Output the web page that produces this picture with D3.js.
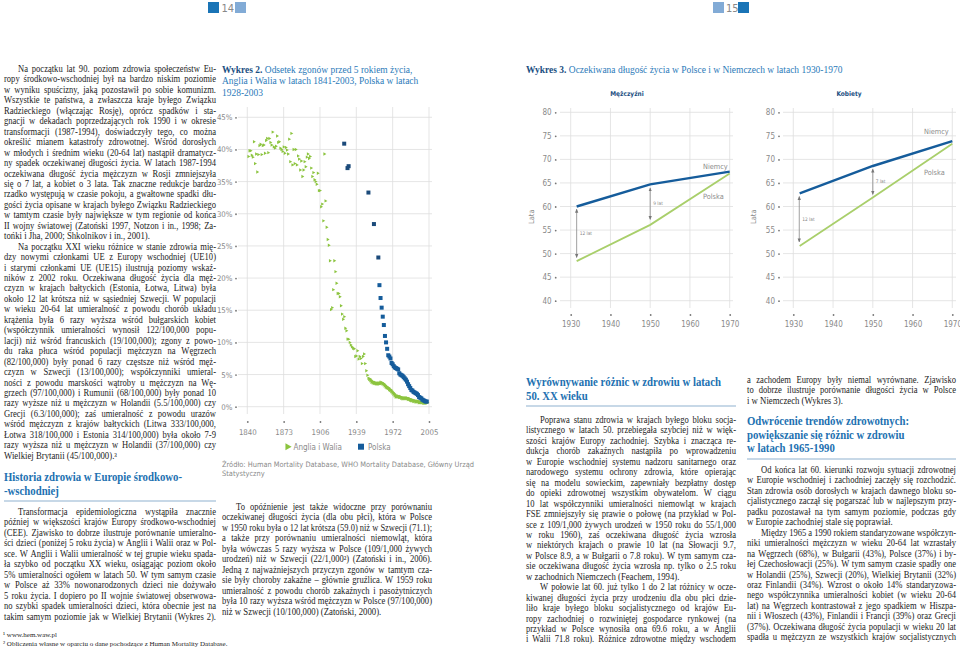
<!DOCTYPE html>
<html><head><meta charset="utf-8">
<script src="https://cdn.jsdelivr.net/npm/d3@7"></script>
<style>body{margin:0;background:#fff}svg{display:block}</style>
</head><body>
<script>
// ---------------- DATA ----------------
// Wykres 2: percentage of deaths before age 5
const ewStartYear = 1841;
const ewValues = [
 38.9,39.8,39.8,39.1,38.8,41.2,37.8,39.3,36.5,39.2,
 40.6,40.8,39.2,40.6,40.7,39.4,41.4,41.7,39.5,41.7,
 41.1,40.7,42.7,40.4,40.2,40.5,42.1,41.1,41.2,40.2,
 40.0,39.7,40.4,39.4,40.3,39.9,39.3,41.6,38.1,42.5,
 37.6,40.0,37.8,40.0,37.6,39.0,38.5,36.8,38.2,35.8,
 36.8,38.1,37.3,38.8,39.3,38.6,38.9,37.1,35.8,36.4,
 35.3,35.0,34.6,36.3,33.6,33.6,
 31.1,31.5,28.9,39.3,32.0,27.9,26.0,25.1,22.7,15.1,
 15.4,18.2,22.7,21.0,19.2,17.6,17.6,17.1,15.7,14.4,
 13.6,14.0,12.2,11.8,10.5,10.5,10.0,9.6,9.3,9.1,
 9.0,7.8,7.9,8.7,7.4,7.8,7.5,6.7,7.8,8.2,
 6.7,5.6,4.9,4.4,
 4.3,4.1,3.9,3.8,3.7,3.7,3.6,3.6,3.6,3.6,
 3.7,3.7,3.6,3.5,3.3,3.1,3.0,2.9,2.7,2.6,
 2.4,2.2,2.0,1.8,1.6,1.6,1.6,1.5,1.5,1.4,
 1.3,1.3,1.3,1.3,1.3,1.2,1.2,1.1,1.0,1.0,
 0.9,0.9,0.8,0.8,0.8,0.7,0.7,0.7,0.7,0.6,
 0.6,0.6,0.6
];
const plYears = [1928,1931,1932,1950,1955,1959,
 1960,1961,1962,1963,1964,1965,1966,1967,1968,1969,
 1970,1971,1972,1973,1974,1975,1976,1977,1978,1979,
 1980,1981,1982,1983,1984,1985,1986,1987,1988,1989,
 1990,1991,1992,1993,1994,1995,1996,1997,1998,1999,
 2000,2001,2002,2003];
const plValues = [40.9,37.1,37.4,33.3,28.4,23.2,
 18.9,16.9,15.4,14.0,12.7,11.0,10.0,9.0,8.0,7.8,
 7.5,6.8,6.6,6.3,6.1,6.0,5.9,5.8,5.2,5.0,
 4.9,4.8,4.6,4.4,4.2,3.9,3.5,3.2,2.9,2.6,
 2.5,2.3,2.2,2.1,2.0,1.8,1.5,1.4,1.3,1.1,
 1.0,0.9,0.8,0.8];
const chart2XTicks = [1840,1873,1906,1939,1972,2005];
const chart2YTicks = [0,5,10,15,20,25,30,35,40,45];
const chart2Legend = ["Anglia i Walia","Polska"];

// Wykres 3: life expectancy
const c3MenYears = [1931.5,1950,1970];
const c3MenDE = [60.0,64.7,67.4];
const c3MenPL = [48.4,56.1,67.0];
const c3WomYears = [1931.6,1950,1970];
const c3WomDE = [62.8,68.6,73.9];
const c3WomPL = [51.6,61.9,73.3];
const c3XTicks = [1930,1940,1950,1960,1970];
const c3YTicks = [40,45,50,55,60,65,70,75,80];
const c3MenGaps = [{year:1931.5,top:59.4,bottom:49.2,label:"12 lat"},{year:1950,top:63.9,bottom:57.3,label:"9 lat"}];
const c3WomGaps = [{year:1931.5,top:62.1,bottom:52.5,label:"12 lat"},{year:1950,top:67.9,bottom:62.6,label:"7 lat"}];

// ---------------- TEXT ----------------
const leftP1 = [
"Na początku lat 90. poziom zdrowia społeczeństw Eu-",
"ropy środkowo-wschodniej był na bardzo niskim poziomie",
"w wyniku spuścizny, jaką pozostawił po sobie komunizm.",
"Wszystkie te państwa, a zwłaszcza kraje byłego Związku",
"Radzieckiego (włączając Rosję), oprócz spadków i sta-",
"gnacji w dekadach poprzedzających rok 1990 i w okresie",
"transformacji (1987-1994), doświadczyły tego, co można",
"określić mianem katastrofy zdrowotnej. Wśród dorosłych",
"w młodych i średnim wieku (20-64 lat) nastąpił dramatycz-",
"ny spadek oczekiwanej długości życia. W latach 1987-1994",
"oczekiwana długość życia mężczyzn w Rosji zmniejszyła",
"się o 7 lat, a kobiet o 3 lata. Tak znaczne redukcje bardzo",
"rzadko występują w czasie pokoju, a gwałtowne spadki dłu-",
"gości życia opisane w krajach byłego Związku Radzieckiego",
"w tamtym czasie były największe w tym regionie od końca",
"II wojny światowej (Zatoński 1997, Notzon i in., 1998; Za-",
"tońki i Jha, 2000; Shkolnikov i in., 2001)."];
const leftP2 = [
"Na początku XXI wieku różnice w stanie zdrowia mię-",
"dzy nowymi członkami UE z Europy wschodniej (UE10)",
"i starymi członkami UE (UE15) ilustrują poziomy wskaź-",
"ników z 2002 roku. Oczekiwana długość życia dla męż-",
"czyzn w krajach bałtyckich (Estonia, Łotwa, Litwa) była",
"około 12 lat krótsza niż w sąsiedniej Szwecji. W populacji",
"w wieku 20-64 lat umieralność z powodu chorób układu",
"krążenia była 6 razy wyższa wśród bułgarskich kobiet",
"(współczynnik umieralności wynosił 122/100,000 popu-",
"lacji) niż wśród francuskich (19/100,000); zgony z powo-",
"du raka płuca wśród populacji mężczyzn na Węgrzech",
"(82/100,000) były ponad 6 razy częstsze niż wśród męż-",
"czyzn w Szwecji (13/100,000); współczynniki umieral-",
"ności z powodu marskości wątroby u mężczyzn na Wę-",
"grzech (97/100,000) i Rumunii (68/100,000) były ponad 10",
"razy wyższe niż u mężczyzn w Holandii (5.5/100,000) czy",
"Grecji (6.3/100,000); zaś umieralność z powodu urazów",
"wśród mężczyzn z krajów bałtyckich (Litwa 333/100,000,",
"Łotwa 318/100,000 i Estonia 314/100,000) była około 7-9",
"razy wyższa niż u mężczyzn w Holandii (37/100,000) czy",
"Wielkiej Brytanii (45/100,000).³"];
const leftHead = ["Historia zdrowia w Europie środkowo-","-wschodniej"];
const leftP3 = [
"Transformacja epidemiologiczna wystąpiła znacznie",
"później w większości krajów Europy środkowo-wschodniej",
"(CEE). Zjawisko to dobrze ilustruje porównanie umieralno-",
"ści dzieci (poniżej 5 roku życia) w Anglii i Walii oraz w Pol-",
"sce. W Anglii i Walii umieralność w tej grupie wieku spada-",
"ła szybko od początku XX wieku, osiągając poziom około",
"5% umieralności ogółem w latach 50. W tym samym czasie",
"w Polsce aż 33% nowonarodzonych dzieci nie dożywało",
"5 roku życia. I dopiero po II wojnie światowej obserwowa-",
"no szybki spadek umieralności dzieci, która obecnie jest na",
"takim samym poziomie jak w Wielkiej Brytanii (Wykres 2)."];
const footnotes = ["¹ www.hem.waw.pl","² Obliczenia własne w oparciu o dane pochodzące z Human Mortality Database."];
const midP = [
"To opóźnienie jest także widoczne przy porównaniu",
"oczekiwanej długości życia (dla obu płci), która w Polsce",
"w 1950 roku była o 12 lat krótsza (59.0) niż w Szwecji (71.1);",
"a także przy porównaniu umieralności niemowląt, która",
"była wówczas 5 razy wyższa w Polsce (109/1,000 żywych",
"urodzeń) niż w Szwecji (22/1,000²) (Zatoński i in., 2006).",
"Jedną z najważniejszych przyczyn zgonów w tamtym cza-",
"sie były choroby zakaźne – głównie gruźlica. W 1959 roku",
"umieralność z powodu chorób zakaźnych i pasożytniczych",
"była 10 razy wyższa wśród mężczyzn w Polsce (97/100,000)",
"niż w Szwecji (10/100,000) (Zatoński, 2000)."];
const c3Head = ["Wyrównywanie różnic w zdrowiu w latach","50. XX wieku"];
const c3P1 = [
"Poprawa stanu zdrowia w krajach byłego bloku socja-",
"listycznego w latach 50. przebiegała szybciej niż w więk-",
"szości krajów Europy zachodniej. Szybka i znacząca re-",
"dukcja chorób zakaźnych nastąpiła po wprowadzeniu",
"w Europie wschodniej systemu nadzoru sanitarnego oraz",
"narodowego systemu ochrony zdrowia, które opierając",
"się na modelu sowieckim, zapewniały bezpłatny dostęp",
"do opieki zdrowotnej wszystkim obywatelom. W ciągu",
"10 lat współczynniki umieralności niemowląt w krajach",
"FSE zmniejszyły się prawie o połowę (na przykład w Pol-",
"sce z 109/1,000 żywych urodzeń w 1950 roku do 55/1,000",
"w roku 1960), zaś oczekiwana długość życia wzrosła",
"w niektórych krajach o prawie 10 lat (na Słowacji 9.7,",
"w Polsce 8.9, a w Bułgarii o 7.8 roku). W tym samym cza-",
"sie oczekiwana długość życia wzrosła np. tylko o 2.5 roku",
"w zachodnich Niemczech (Feachem, 1994)."];
const c3P2 = [
"W połowie lat 60. już tylko 1 do 2 lat różnicy w ocze-",
"kiwanej długości życia przy urodzeniu dla obu płci dzie-",
"liło kraje byłego bloku socjalistycznego od krajów Eu-",
"ropy zachodniej o rozwiniętej gospodarce rynkowej (na",
"przykład w Polsce wynosiła ona 69.6 roku, a w Anglii",
"i Walii 71.8 roku). Różnice zdrowotne między wschodem"];
const c4P0 = [
"a zachodem Europy były niemal wyrównane. Zjawisko",
"to dobrze ilustruje porównanie długości życia w Polsce",
"i w Niemczech (Wykres 3)."];
const c4Head = ["Odwrócenie trendów zdrowotnych:","powiększanie się różnic w zdrowiu","w latach 1965-1990"];
const c4P1 = [
"Od końca lat 60. kierunki rozwoju sytuacji zdrowotnej",
"w Europie wschodniej i zachodniej zaczęły się rozchodzić.",
"Stan zdrowia osób dorosłych w krajach dawnego bloku so-",
"cjalistycznego zaczął się pogarszać lub w najlepszym przy-",
"padku pozostawał na tym samym poziomie, podczas gdy",
"w Europie zachodniej stale się poprawiał."];
const c4P2 = [
"Między 1965 a 1990 rokiem standaryzowane współczyn-",
"niki umieralności mężczyzn w wieku 20-64 lat wzrastały",
"na Węgrzech (68%), w Bułgarii (43%), Polsce (37%) i by-",
"łej Czechosłowacji (25%). W tym samym czasie spadły one",
"w Holandii (25%), Szwecji (20%), Wielkiej Brytanii (32%)",
"oraz Finlandii (34%). Wzrost o około 14% standaryzowa-",
"nego współczynnika umieralności kobiet (w wieku 20-64",
"lat) na Węgrzech kontrastował z jego spadkiem w Hiszpa-",
"nii i Włoszech (43%), Finlandii i Francji (39%) oraz Grecji",
"(37%). Oczekiwana długość życia populacji w wieku 20 lat",
"spadła u mężczyzn ze wszystkich krajów socjalistycznych"];

// ---------------- STYLE ----------------
const SERIF = "'Liberation Serif','Times New Roman',serif";
const COND = "'Liberation Sans Narrow','DejaVu Sans Condensed','Arial Narrow',sans-serif";
const TXT = "#1c1c1c", HEAD = "#2271b1", DARKBLUE = "#1b4f82", GRID = "#dedede", AX = "#8a8a8a";
const GREEN = "#8cc43f", BLUE = "#155c9b", LGREEN = "#a9cf6b";
const BODY = 9.5;

const svg = d3.select("body").append("svg").attr("width",960).attr("height",649);

function squeeze(t, f){
  const n = t.node().getComputedTextLength();
  t.attr("textLength", n*f).attr("lengthAdjust","spacingAndGlyphs");
}
function para(lines, o){
  lines.forEach((ln,i)=>{
    const y = o.y + i*o.lh;
    const ind = (i===0 && o.indent) ? o.indent : 0;
    const last = i===lines.length-1;
    const avail = o.w-ind;
    const t = svg.append("text").attr("y",y).attr("font-family",SERIF)
      .attr("font-size",BODY).attr("fill",TXT).attr("x",o.x+ind);
    t.text(ln);
    const natural = t.node().getComputedTextLength();
    if(last && !o.justifyLast){
      t.attr("textLength",Math.min(avail,natural*0.92)).attr("lengthAdjust","spacingAndGlyphs");
      return;
    }
    if(natural*0.9 > avail){
      t.attr("textLength",avail).attr("lengthAdjust","spacingAndGlyphs");
      return;
    }
    const words = ln.split(" ");
    const ws = words.map(w=>{ t.text(w); return t.node().getComputedTextLength()*0.9; });
    t.text(null);
    const gap = words.length>1 ? (avail-d3.sum(ws))/(words.length-1) : 0;
    let cx = o.x+ind;
    words.forEach((w,j)=>{ t.append("tspan").attr("x",cx).attr("textLength",ws[j])
      .attr("lengthAdjust","spacingAndGlyphs").text(w); cx += ws[j]+gap; });
  });
}
function heading(lines, x, y, lh, size, ruleY, w){
  lines.forEach((ln,i)=>{
    const t = svg.append("text").attr("x",x).attr("y",y+i*lh)
    .attr("font-family",SERIF).attr("font-weight","bold").attr("font-size",size)
    .attr("fill",HEAD).text(ln);
    squeeze(t,0.86);
  });
  svg.append("line").attr("x1",x).attr("x2",x+w).attr("y1",ruleY).attr("y2",ruleY)
    .attr("stroke","#8fb1cf").attr("stroke-width",1.2);
}

// ---------------- PAGE HEADER ----------------
svg.append("rect").attr("x",208).attr("y",2).attr("width",11).attr("height",11).attr("fill","#1a74b6");
svg.append("text").attr("x",221.5).attr("y",12).attr("font-family",COND).attr("font-size",11).attr("fill","#888").text("14");
svg.append("rect").attr("x",235).attr("y",2).attr("width",11).attr("height",11).attr("fill","#82abd6");
svg.append("rect").attr("x",713).attr("y",2).attr("width",11).attr("height",11).attr("fill","#82abd6");
svg.append("text").attr("x",726).attr("y",12).attr("font-family",COND).attr("font-size",11).attr("fill","#888").text("15");
svg.append("rect").attr("x",738).attr("y",2).attr("width",11).attr("height",11).attr("fill","#1a74b6");

// ---------------- TEXT COLUMNS ----------------
const LH = 10.45;
para(leftP1,{x:4,w:212,y:72,lh:LH,indent:14});
para(leftP2,{x:4,w:212,y:72+leftP1.length*LH,lh:LH,indent:14});
heading(leftHead,4,481,13.5,12.5,501,212);
para(leftP3,{x:4,w:212,y:515,lh:LH,indent:14,justifyLast:true});
footnotes.forEach((f,i)=>svg.append("text").attr("x",3).attr("y",637+i*9.3)
  .attr("font-family",SERIF).attr("font-size",7).attr("fill",TXT).text(f));

para(midP,{x:222,w:210,y:510,lh:LH,indent:14});

heading(c3Head,526,386,13.5,12.5,406,210);
para(c3P1,{x:526,w:210,y:423,lh:LH,indent:14});
para(c3P2,{x:526,w:210,y:423+c3P1.length*LH,lh:LH,indent:14,justifyLast:true});

para(c4P0,{x:747,w:209,y:383,lh:LH});
heading(c4Head,747,425,13.5,12.5,459,209);
para(c4P1,{x:747,w:209,y:473,lh:LH,indent:14});
para(c4P2,{x:747,w:209,y:473+c4P1.length*LH,lh:LH,indent:14,justifyLast:true});

// ---------------- CHART 2 ----------------
const t2lines = [["Wykres 2. ","Odsetek zgonów przed 5 rokiem życia,"],["","Anglia i Walia w latach 1841-2003, Polska w latach"],["","1928-2003"]];
t2lines.forEach((l,i)=>{
  const t = svg.append("text").attr("x",222).attr("y",72.5+i*11.5).attr("font-family",SERIF)
    .attr("font-size",10.4).attr("fill","#2b7ab9");
  if(l[0]) t.append("tspan").attr("font-weight","bold").attr("fill",DARKBLUE).text(l[0]);
  t.append("tspan").text(l[1]);
  squeeze(t,0.91);
});

const x2 = d3.scaleLinear().domain([1840,2005]).range([247.3,429]);
const y2 = d3.scaleLinear().domain([0,45]).range([406.7,117.3]);
const g2 = svg.append("g");
g2.selectAll(".hg").data(chart2YTicks).join("line")
  .attr("x1",238).attr("x2",432).attr("y1",d=>y2(d)).attr("y2",d=>y2(d))
  .attr("stroke",GRID).attr("stroke-width",0.8);
g2.selectAll(".vg").data(chart2XTicks).join("line")
  .attr("x1",d=>x2(d)).attr("x2",d=>x2(d)).attr("y1",107).attr("y2",414)
  .attr("stroke",GRID).attr("stroke-width",0.8);
const ay2 = g2.append("g").attr("transform","translate(236,0)")
  .call(d3.axisLeft(y2).tickValues(chart2YTicks).tickFormat(d=>d+"%").tickSize(0).tickPadding(3.5));
const ax2 = g2.append("g").attr("transform","translate(0,422)")
  .call(d3.axisBottom(x2).tickValues(chart2XTicks).tickFormat(d3.format("d")).tickSize(0).tickPadding(7));
[ay2,ax2].forEach(a=>{ a.select(".domain").remove();
  a.selectAll("text").attr("font-family",COND).attr("font-size",7.8).attr("fill",AX);
  a.selectAll(".tick").append("circle").attr("r",0.9).attr("fill","#777"); });

const ewData = ewValues.map((v,i)=>({year:ewStartYear+i,v}));
g2.selectAll(".ew").data(ewData).join("path")
  .attr("d",d=>d3.symbol(d3.symbolTriangle, d.year>1950 ? 9 : 5)())
  .attr("transform",d=>`translate(${x2(d.year)},${y2(d.v)}) rotate(90)`)
  .attr("fill",GREEN);
const plData = plYears.map((y,i)=>({year:y,v:plValues[i]}));
g2.selectAll(".pl").data(plData).join("rect")
  .attr("x",d=>x2(d.year)-2).attr("y",d=>y2(d.v)-2).attr("width",4).attr("height",4)
  .attr("fill",d=>d.year<1960 ? "#1b4a7a" : BLUE);

// legend
g2.append("path").attr("d",d3.symbol(d3.symbolTriangle,22)).attr("transform","translate(287.5,446.7) rotate(90)").attr("fill",GREEN);
g2.append("text").attr("x",293.5).attr("y",449.6).attr("font-family",COND).attr("font-size",8).attr("fill",AX).text(chart2Legend[0]);
g2.append("rect").attr("x",358).attr("y",443.7).attr("width",6).attr("height",6).attr("fill",BLUE);
g2.append("text").attr("x",368).attr("y",449.6).attr("font-family",COND).attr("font-size",8).attr("fill",AX).text(chart2Legend[1]);
g2.append("text").attr("x",222).attr("y",466.5).attr("font-family",COND).attr("font-size",7.4).attr("fill",AX)
  .text("Źródło: Human Mortality Database, WHO Mortality Database, Główny Urząd");
g2.append("text").attr("x",222).attr("y",476).attr("font-family",COND).attr("font-size",7.4).attr("fill",AX)
  .text("Statystyczny");

// ---------------- CHART 3 ----------------
const t3 = svg.append("text").attr("x",526).attr("y",72.5).attr("font-family",SERIF).attr("font-size",10.4).attr("fill","#2b7ab9");
t3.append("tspan").attr("font-weight","bold").attr("fill",DARKBLUE).text("Wykres 3. ");
t3.append("tspan").text("Oczekiwana długość życia w Polsce i w Niemczech w latach 1930-1970");
squeeze(t3,0.91);

svg.append("defs").append("marker").attr("id","ah").attr("viewBox","0 0 6 6").attr("refX",5).attr("refY",3)
  .attr("markerWidth",5).attr("markerHeight",5).attr("orient","auto-start-reverse")
  .append("path").attr("d","M0,0.5L6,3L0,5.5Z").attr("fill","#777");

const y3 = d3.scaleLinear().domain([40,80]).range([300.7,112.3]);
const panels = [
 {title:"Mężczyźni", cx:627, x0:570.7, x1:729.7, gx0:560, gx1:733, tick:555.7, lata:531.7,
  years:c3MenYears, de:c3MenDE, pl:c3MenPL, gaps:c3MenGaps,
  deLab:[703,169], plLab:[703,199]},
 {title:"Kobiety", cx:849, x0:793.3, x1:952.3, gx0:783, gx1:956, tick:779, lata:753.3,
  years:c3WomYears, de:c3WomDE, pl:c3WomPL, gaps:c3WomGaps,
  deLab:[924,134], plLab:[924,175]}
];
panels.forEach(p=>{
  const x3 = d3.scaleLinear().domain([1930,1970]).range([p.x0,p.x1]);
  const g = svg.append("g");
  g.append("text").attr("x",p.cx).attr("y",95.5).attr("text-anchor","middle")
    .attr("font-family",COND).attr("font-weight","bold").attr("font-size",6.5).attr("fill",DARKBLUE).text(p.title);
  g.selectAll(".hg").data(c3YTicks).join("line").attr("x1",p.gx0).attr("x2",p.gx1)
    .attr("y1",d=>y3(d)).attr("y2",d=>y3(d)).attr("stroke",GRID).attr("stroke-width",0.8);
  g.selectAll(".vg").data(c3XTicks).join("line").attr("x1",d=>x3(d)).attr("x2",d=>x3(d))
    .attr("y1",108).attr("y2",308).attr("stroke",GRID).attr("stroke-width",0.8);
  const ay = g.append("g").attr("transform",`translate(${p.tick},0)`)
    .call(d3.axisLeft(y3).tickValues(c3YTicks).tickSize(0).tickPadding(4));
  const ax = g.append("g").attr("transform","translate(0,315)")
    .call(d3.axisBottom(x3).tickValues(c3XTicks).tickFormat(d3.format("d")).tickSize(0).tickPadding(6));
  [ay,ax].forEach(a=>{ a.select(".domain").remove();
    a.selectAll("text").attr("font-family",COND).attr("font-size",8).attr("fill",AX);
    a.selectAll(".tick").append("circle").attr("r",0.9).attr("fill","#777"); });
  g.append("text").attr("transform",`translate(${p.lata},216.7) rotate(-90)`).attr("text-anchor","middle")
    .attr("dy","0.35em").attr("font-family",COND).attr("font-size",7.5).attr("fill",AX).text("Lata");
  const line = d3.line().x(d=>x3(d[0])).y(d=>y3(d[1]));
  g.append("path").attr("d",line(p.years.map((yr,i)=>[yr,p.pl[i]]))).attr("fill","none")
    .attr("stroke",LGREEN).attr("stroke-width",1.8);
  g.append("path").attr("d",line(p.years.map((yr,i)=>[yr,p.de[i]]))).attr("fill","none")
    .attr("stroke",BLUE).attr("stroke-width",2.4);
  g.append("text").attr("x",p.deLab[0]).attr("y",p.deLab[1]).attr("font-family",COND).attr("font-size",7.3).attr("fill",AX).text("Niemcy");
  g.append("text").attr("x",p.plLab[0]).attr("y",p.plLab[1]).attr("font-family",COND).attr("font-size",7.3).attr("fill",AX).text("Polska");
  p.gaps.forEach(a=>{
    g.append("line").attr("x1",x3(a.year)).attr("x2",x3(a.year)).attr("y1",y3(a.top)).attr("y2",y3(a.bottom))
      .attr("stroke","#888").attr("stroke-width",0.8)
      .attr("marker-start","url(#ah)").attr("marker-end","url(#ah)");
    g.append("text").attr("x",x3(a.year)+3).attr("y",(y3(a.top)+y3(a.bottom))/2+1.5)
      .attr("font-family",COND).attr("font-size",4.8).attr("fill","#888").text(a.label);
  });
});
</script>
</body></html>
